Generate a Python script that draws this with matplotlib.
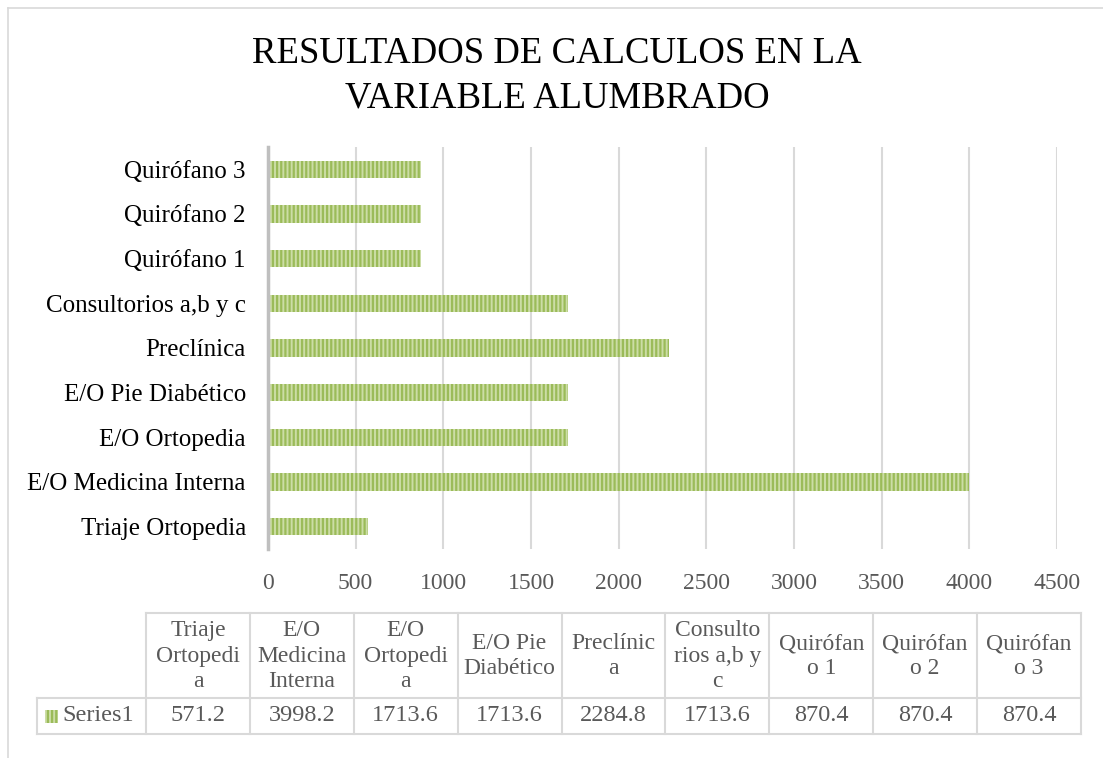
import matplotlib
matplotlib.use("Agg")
import matplotlib.pyplot as plt
from matplotlib.lines import Line2D
from matplotlib.patches import Rectangle

plt.rcParams['font.family'] = ['Liberation Serif', 'DejaVu Serif']
plt.rcParams['hatch.linewidth'] = 1.6

categories = ["Triaje Ortopedia", "E/O Medicina Interna", "E/O Ortopedia",
              "E/O Pie Diabético", "Preclínica", "Consultorios a,b y c",
              "Quirófano 1", "Quirófano 2", "Quirófano 3"]
values = [571.2, 3998.2, 1713.6, 1713.6, 2284.8, 1713.6, 870.4, 870.4, 870.4]
table_headers = ["Triaje\nOrtopedi\na", "E/O\nMedicina\nInterna", "E/O\nOrtopedi\na",
                 "E/O Pie\nDiabético", "Preclínic\na", "Consulto\nrios a,b y\nc",
                 "Quirófan\no 1", "Quirófan\no 2", "Quirófan\no 3"]
series_name = "Series1"
value_labels = ["571.2", "3998.2", "1713.6", "1713.6", "2284.8", "1713.6", "870.4", "870.4", "870.4"]
xticks = [0, 500, 1000, 1500, 2000, 2500, 3000, 3500, 4000, 4500]
title = "RESULTADOS DE CALCULOS EN LA\nVARIABLE ALUMBRADO"

W, H = 1103, 758
fig = plt.figure(figsize=(W / 100, H / 100), dpi=100)

def fx(px):
    return px / W

def fy(py):
    return 1 - py / H

# outer chart border
fig.add_artist(Line2D([fx(8), fx(1103)], [fy(8), fy(8)], color="#D9D9D9", lw=1.2))
fig.add_artist(Line2D([fx(8), fx(8)], [fy(8), fy(758)], color="#D9D9D9", lw=1.2))

ax = fig.add_axes([fx(268), fy(549), fx(1057) - fx(268), fy(147) - fy(549)])
green = "#9BBB59"
light = "#CCDDA6"
ax.barh(range(len(categories)), values, height=0.39, color=light,
        edgecolor=green, linewidth=0, hatch="||||")
ax.set_xlim(0, 4500)
ax.set_ylim(-0.5, len(categories) - 0.5)
ax.set_xticks(xticks)
ax.set_xticklabels([str(t) for t in xticks], fontsize=17, color="#595959")
ax.set_yticks(range(len(categories)))
ax.set_yticklabels(categories, fontsize=18, color="#000000")
ax.tick_params(axis="both", length=0)
ax.tick_params(axis="x", pad=17)
ax.tick_params(axis="y", pad=16)
ax.grid(axis="x", color="#D9D9D9", lw=1.5)
ax.set_axisbelow(True)
for s in ["top", "right", "bottom"]:
    ax.spines[s].set_visible(False)
ax.spines["left"].set_color("#BFBFBF")
ax.spines["left"].set_linewidth(2.5)
ax.spines["left"].set_zorder(5)

fig.text(fx(557), fy(76), title, ha="center", va="center", fontsize=26.5,
         color="#000000", linespacing=1.36)

# data table
col0 = 146.0
colw = (1081.0 - 146.0) / len(categories)
top, mid, bot = 613.0, 697.5, 734.0
lab_left = 37.0
lc = "#D9D9D9"
lw = 1.5
fig.add_artist(Line2D([fx(col0), fx(1081)], [fy(top), fy(top)], color=lc, lw=lw))
fig.add_artist(Line2D([fx(lab_left), fx(1081)], [fy(mid), fy(mid)], color=lc, lw=lw))
fig.add_artist(Line2D([fx(lab_left), fx(1081)], [fy(bot), fy(bot)], color=lc, lw=lw))
fig.add_artist(Line2D([fx(lab_left), fx(lab_left)], [fy(mid), fy(bot)], color=lc, lw=lw))
for i in range(len(categories) + 1):
    x = col0 + i * colw
    fig.add_artist(Line2D([fx(x), fx(x)], [fy(top), fy(bot)], color=lc, lw=lw))
for i, (hdr, val) in enumerate(zip(table_headers, value_labels)):
    cx = col0 + (i + 0.5) * colw
    fig.text(fx(cx), fy((top + mid) / 2 + 1), hdr, ha="center", va="center",
             fontsize=17, color="#595959", linespacing=1.28)
    fig.text(fx(cx), fy((mid + bot) / 2), val, ha="center", va="center",
             fontsize=17.5, color="#595959")
# legend key
key = Rectangle((fx(45), fy(723)), fx(13), fy(710) - fy(723), transform=fig.transFigure,
                facecolor=light, edgecolor=green, linewidth=0, hatch="||||")
fig.add_artist(key)
fig.text(fx(62), fy((mid + bot) / 2), series_name, ha="left", va="center",
         fontsize=17.5, color="#595959")

fig.savefig("out.png", dpi=100)
